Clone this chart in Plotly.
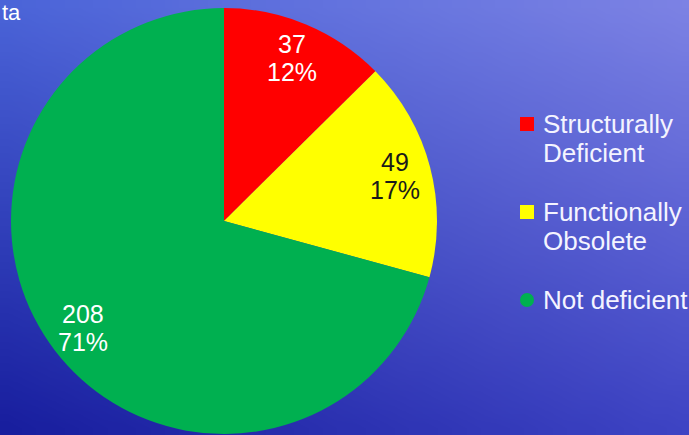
import base64
import math
import struct
import zlib

import plotly.graph_objects as go

# ---- data -----------------------------------------------------------------
categories = ["Structurally<br>Deficient", "Functionally<br>Obsolete", "Not deficient"]
bridge_counts = [37, 49, 208]
percent_labels = ["12%", "17%", "71%"]

# ---- styling --------------------------------------------------------------
slice_colors = ["#FF0000", "#FFFF00", "#00B050"]
label_colors = ["#FFFFFF", "#1A1A1A", "#FFFFFF"]
legend_symbols = ["square", "square", "circle"]
FONT = "Liberation Sans, Arial, sans-serif"

W, H = 689, 435
CX, CY, R = 224, 221, 213  # pie centre / radius in pixels


def px_x(x):
    return x / W


def px_y(y):
    return 1 - y / H


def gradient_png(w, h):
    """Small blue diagonal gradient, stretched over the whole page."""
    tl, tr = (75, 100, 216), (124, 130, 228)
    bl, br = (24, 30, 158), (62, 68, 196)
    rows = []
    for j in range(h):
        v = j / (h - 1)
        row = bytearray([0])
        for i in range(w):
            u = i / (w - 1)
            for k in range(3):
                top = tl[k] * (1 - u) + tr[k] * u
                bot = bl[k] * (1 - u) + br[k] * u
                row.append(int(round(top * (1 - v) + bot * v)))
        rows.append(bytes(row))
    raw = b"".join(rows)

    def chunk(tag, data):
        c = struct.pack(">I", len(data)) + tag + data
        return c + struct.pack(">I", zlib.crc32(tag + data) & 0xFFFFFFFF)

    png = b"\x89PNG\r\n\x1a\n"
    png += chunk(b"IHDR", struct.pack(">IIBBBBB", w, h, 8, 2, 0, 0, 0))
    png += chunk(b"IDAT", zlib.compress(raw, 9))
    png += chunk(b"IEND", b"")
    return "data:image/png;base64," + base64.b64encode(png).decode()


fig = go.Figure()

fig.add_trace(go.Pie(
    labels=categories,
    values=bridge_counts,
    marker=dict(colors=slice_colors, line=dict(width=0)),
    sort=False,
    direction="clockwise",
    rotation=0,
    textinfo="none",
    hoverinfo="skip",
    showlegend=False,
    domain=dict(x=[px_x(CX - R), px_x(CX + R)], y=[px_y(CY + R), px_y(CY - R)]),
))

annotations = []
shapes = []

# value / percentage labels placed on each slice's bisector
total = sum(bridge_counts)
cum = 0
LABEL_RADIUS = 0.83
for value, pct, color in zip(bridge_counts, percent_labels, label_colors):
    theta = 2 * math.pi * (cum + value / 2) / total
    cum += value
    lx = CX + LABEL_RADIUS * R * math.sin(theta)
    ly = CY - LABEL_RADIUS * R * math.cos(theta)
    for txt, dy in ((str(value), -14), (pct, 14)):
        annotations.append(dict(
            x=px_x(lx), y=px_y(ly + dy), xref="paper", yref="paper",
            text=txt, showarrow=False, xanchor="center", yanchor="middle",
            font=dict(family=FONT, size=25, color=color),
        ))

# legend on the right
LEG_X, LEG_Y0, LEG_STEP, LINE_STEP = 527, 124, 88, 29
for i, (name, color, sym) in enumerate(zip(categories, slice_colors, legend_symbols)):
    y0 = LEG_Y0 + i * LEG_STEP
    half = 7
    shapes.append(dict(
        type="rect" if sym == "square" else "circle",
        xref="paper", yref="paper",
        x0=px_x(LEG_X - half), x1=px_x(LEG_X + half),
        y0=px_y(y0 + half), y1=px_y(y0 - half),
        fillcolor=color, line=dict(width=0),
    ))
    for k, line in enumerate(name.split("<br>")):
        annotations.append(dict(
            x=px_x(LEG_X + 14), y=px_y(y0 + k * LINE_STEP), xref="paper", yref="paper",
            text=line, showarrow=False, xanchor="left", yanchor="middle",
            font=dict(family=FONT, size=26, color="#F4F4FF"),
        ))

# remnant of the heading at the top-left corner
annotations.append(dict(
    x=0, y=1, xref="paper", yref="paper", text="ta", showarrow=False,
    xanchor="left", yanchor="top", yshift=2,
    font=dict(family=FONT, size=22, color="#FFFFFF"),
))

fig.update_layout(
    width=W, height=H,
    margin=dict(l=0, r=0, t=0, b=0),
    paper_bgcolor="#3848c8",
    plot_bgcolor="rgba(0,0,0,0)",
    showlegend=False,
    annotations=annotations,
    shapes=shapes,
    images=[dict(
        source=gradient_png(48, 30), xref="paper", yref="paper",
        x=0, y=1, sizex=1, sizey=1, sizing="stretch",
        xanchor="left", yanchor="top", layer="below",
    )],
)

fig.write_html("out.html")
